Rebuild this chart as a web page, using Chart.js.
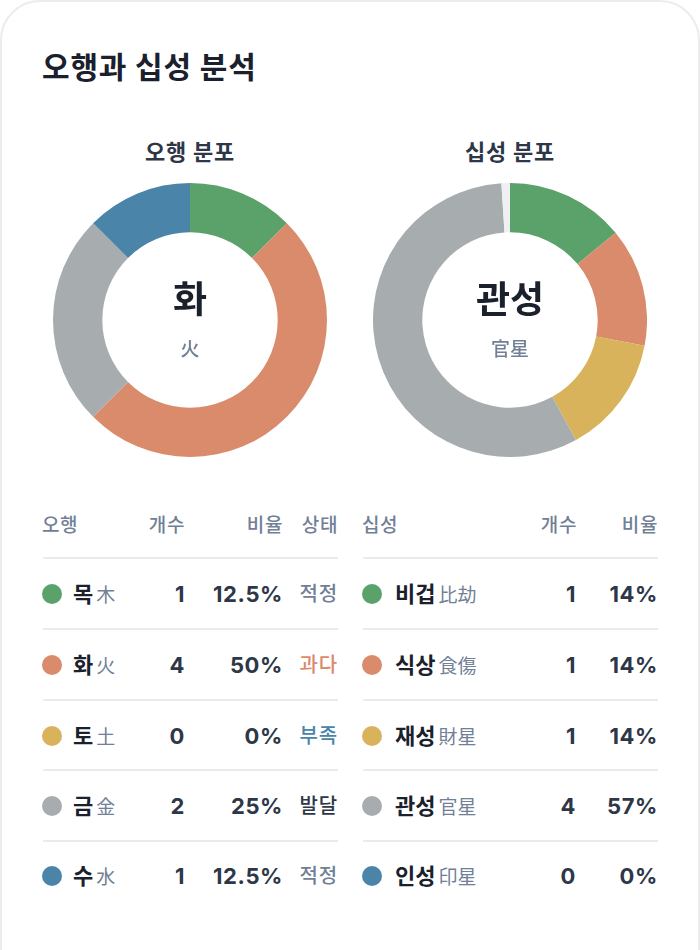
<!DOCTYPE html>
<html><head><meta charset="utf-8">
<script src="https://cdn.jsdelivr.net/npm/chart.js@4.4.1/dist/chart.umd.min.js"></script>
<style>
html,body{margin:0;padding:0;background:#fff;}
body{width:700px;height:950px;overflow:hidden;position:relative;font-family:Inter,"Noto Sans CJK KR",sans-serif;}
.card{position:absolute;left:0;top:0;width:696px;height:1000px;border:2px solid #ececec;border-radius:40px;background:#fff;}
.abs{position:absolute;white-space:nowrap;}
.title{left:42px;top:47px;font-size:30px;font-weight:700;color:#1a202c;line-height:40px;letter-spacing:0.8px;}
.sub{width:300px;text-align:center;font-size:22px;font-weight:700;color:#2d3748;line-height:30px;letter-spacing:0.8px;}
.cbig{width:240px;text-align:center;font-size:37px;font-weight:700;color:#1a202c;line-height:46px;}
.csmall{width:240px;text-align:center;font-size:19px;font-weight:500;color:#718096;line-height:26px;}
.hd{font-size:19px;font-weight:500;color:#718096;line-height:24px;letter-spacing:0.6px;}
.r{text-align:right;}
.line{height:2px;background:#e9ebee;}
.dot{width:20px;height:20px;border-radius:50%;}
.nm{font-size:22px;font-weight:700;color:#1a202c;line-height:28px;}
.hj{font-size:19px;font-weight:400;color:#718096;margin-left:3px;}
.num{font-size:22px;font-weight:700;color:#2d3748;line-height:28px;letter-spacing:0.6px;}
.st{font-size:20px;font-weight:500;line-height:28px;letter-spacing:0.8px;}
canvas{position:absolute;}
</style></head>
<body>
<div class="card"></div>
<div class="abs title">오행과 십성 분석</div>
<div class="abs sub" style="left:40px;top:137px;">오행 분포</div>
<div class="abs sub" style="left:360px;top:137px;">십성 분포</div>
<canvas id="c1" width="274" height="274" style="left:53px;top:183px;"></canvas>
<canvas id="c2" width="274" height="274" style="left:373px;top:183px;"></canvas>
<div id="overlay"></div>
<script>
// ---- data ----
const elementNames = ['목', '화', '토', '금', '수'];
const elementHanja = ['木', '火', '土', '金', '水'];
const elementCounts = [1, 4, 0, 2, 1];
const elementRatios = [12.5, 50, 0, 25, 12.5];
const elementRatioLabels = ['12.5%', '50%', '0%', '25%', '12.5%'];
const elementStatus = ['적정', '과다', '부족', '발달', '적정'];
const tenGodNames = ['비겁', '식상', '재성', '관성', '인성'];
const tenGodHanja = ['比劫', '食傷', '財星', '官星', '印星'];
const tenGodCounts = [1, 1, 1, 4, 0];
const tenGodRatios = [14, 14, 14, 57, 0];
const tenGodRatioLabels = ['14%', '14%', '14%', '57%', '0%'];
const dominantElement = ['화', '火'];
const dominantTenGod = ['관성', '官星'];
const elementHeaders = ['오행', '개수', '비율', '상태'];
const tenGodHeaders = ['십성', '개수', '비율'];

// ---- styles ----
const palette = ['#5ba26a', '#d98b6b', '#d9b35b', '#a7adaf', '#4a84a8'];
const restColor = '#eef0f1';
const statusColors = {'적정': '#718096', '과다': '#d98b6b', '부족': '#4a84a8', '발달': '#2d3748'};

function doughnut(id, labels, values, colors) {
  new Chart(document.getElementById(id), {
    type: 'doughnut',
    data: { labels: labels, datasets: [{ data: values, backgroundColor: colors, borderWidth: 0, hoverOffset: 0 }] },
    options: {
      responsive: false, animation: false, cutout: '64%',
      layout: { padding: 0 },
      plugins: { legend: { display: false }, tooltip: { enabled: false } }
    }
  });
}
doughnut('c1', elementNames, elementRatios, palette);
const rest = Math.max(0, 100 - tenGodRatios.reduce((a, b) => a + b, 0));
doughnut('c2', tenGodNames.concat(['']), tenGodRatios.concat([rest]), palette.concat([restColor]));

// ---- overlay text ----
const ov = document.getElementById('overlay');
function add(cls, style, html) {
  const d = document.createElement('div');
  d.className = 'abs ' + cls;
  d.setAttribute('style', style);
  d.innerHTML = html;
  ov.appendChild(d);
}
add('cbig', 'left:70px;top:277px;', dominantElement[0]);
add('csmall', 'left:70px;top:337px;', dominantElement[1]);
add('cbig', 'left:390px;top:277px;', dominantTenGod[0]);
add('csmall', 'left:390px;top:337px;', dominantTenGod[1]);

// headers
const hy = 514;
add('hd', `left:42px;top:${hy}px;`, elementHeaders[0]);
add('hd r', `right:${700-185}px;top:${hy}px;`, elementHeaders[1]);
add('hd r', `right:${700-283}px;top:${hy}px;`, elementHeaders[2]);
add('hd r', `right:${700-338}px;top:${hy}px;`, elementHeaders[3]);
add('hd', `left:362px;top:${hy}px;`, tenGodHeaders[0]);
add('hd r', `right:${700-577}px;top:${hy}px;`, tenGodHeaders[1]);
add('hd r', `right:${700-658}px;top:${hy}px;`, tenGodHeaders[2]);

const rowY = [594, 665, 736, 806, 876];
const lineY = [557, 628, 699, 769, 840];
lineY.forEach(y => {
  add('line', `left:43px;top:${y}px;width:295px;`, '');
  add('line', `left:363px;top:${y}px;width:295px;`, '');
});
elementNames.forEach((n, i) => {
  const y = rowY[i];
  add('dot', `left:42px;top:${y-10}px;background:${palette[i]};`, '');
  add('nm', `left:73px;top:${y-14}px;`, n + '<span class="hj">' + elementHanja[i] + '</span>');
  add('num r', `right:${700-185}px;top:${y-14}px;`, String(elementCounts[i]));
  add('num r', `right:${700-283}px;top:${y-14}px;`, elementRatioLabels[i]);
  add('st r', `right:${700-338}px;top:${y-14}px;color:${statusColors[elementStatus[i]]};`, elementStatus[i]);
});
tenGodNames.forEach((n, i) => {
  const y = rowY[i];
  add('dot', `left:362px;top:${y-10}px;background:${palette[i]};`, '');
  add('nm', `left:395px;top:${y-14}px;`, n + '<span class="hj">' + tenGodHanja[i] + '</span>');
  add('num r', `right:${700-576}px;top:${y-14}px;`, String(tenGodCounts[i]));
  add('num r', `right:${700-658}px;top:${y-14}px;`, tenGodRatioLabels[i]);
});
</script>
</body></html>
